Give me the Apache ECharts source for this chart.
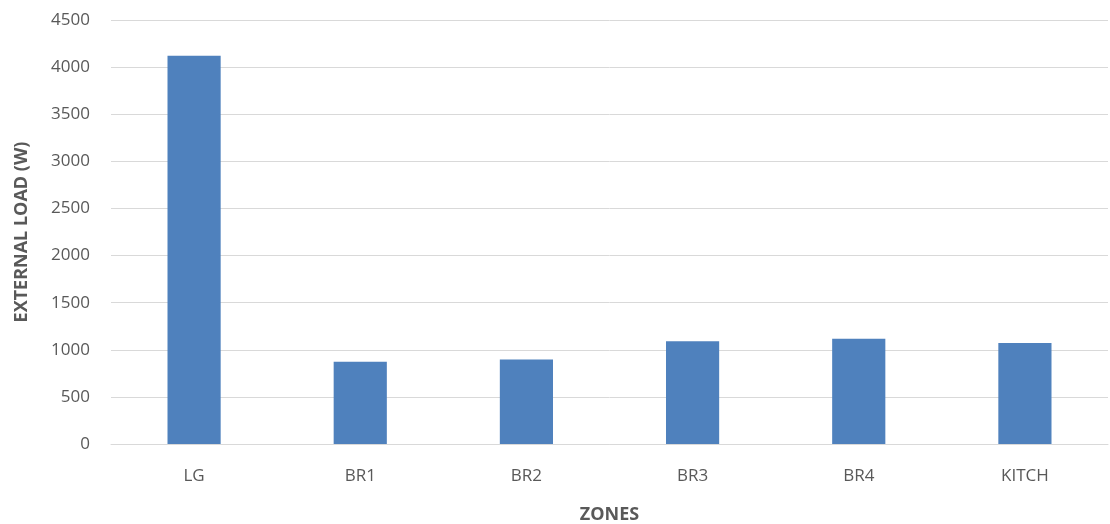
<!DOCTYPE html>
<html>
<head>
<meta charset="utf-8">
<script src="https://cdn.jsdelivr.net/npm/echarts@6/dist/echarts.min.js"></script>
<style>
  html, body { margin: 0; padding: 0; background: #fff; }
  #chart { width: 1110px; height: 524px; }
</style>
</head>
<body>
<div id="chart"></div>
<script>
const zones = ['LG', 'BR1', 'BR2', 'BR3', 'BR4', 'KITCH'];
const externalLoad = [4120, 872, 897, 1090, 1116, 1072];
const yTicks = { min: 0, max: 4500, interval: 500 };

const font = '"Liberation Sans Narrow", "Open Sans", sans-serif';

const chart = echarts.init(document.getElementById('chart'));
chart.setOption({
  animation: false,
  grid: { left: 111, right: 2, top: 20, bottom: 80, outerBoundsMode: 'none', containLabel: false },
  xAxis: {
    type: 'category',
    data: zones,
    name: 'ZONES',
    nameLocation: 'middle',
    nameGap: 62,
    nameTextStyle: { fontFamily: font, fontSize: 18, fontWeight: 'bold', color: '#595959' },
    axisLine: { show: true, lineStyle: { color: '#d9d9d9' } },
    axisTick: { show: false },
    axisLabel: { fontFamily: font, fontSize: 17, color: '#595959', margin: 24 }
  },
  yAxis: {
    type: 'value',
    min: yTicks.min,
    max: yTicks.max,
    interval: yTicks.interval,
    name: 'EXTERNAL LOAD (W)',
    nameLocation: 'middle',
    nameGap: 80,
    nameRotate: 90,
    nameTextStyle: { fontFamily: font, fontSize: 18, fontWeight: 'bold', color: '#595959' },
    axisLine: { show: false },
    axisTick: { show: false },
    axisLabel: { fontFamily: font, fontSize: 17, color: '#595959', margin: 21, formatter: v => String(v) },
    splitLine: { lineStyle: { color: '#d9d9d9' } }
  },
  series: [{
    type: 'bar',
    data: externalLoad,
    barWidth: '32%',
    itemStyle: { color: '#4f81bd' }
  }]
});
</script>
</body>
</html>
